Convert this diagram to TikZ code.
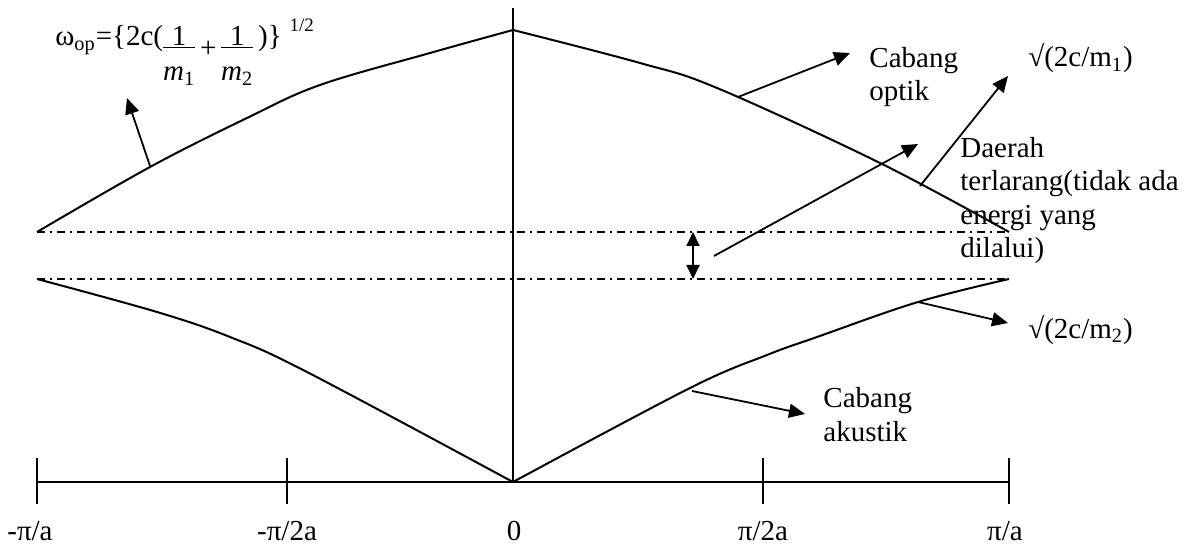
\documentclass[tikz,border=0pt]{standalone}
\usepackage{fontspec}
\setmainfont{Liberation Serif}
\usetikzlibrary{arrows.meta}

% fraction with the bar just under the numerator
\newcommand{\wfrac}[2]{\vtop{\halign{\hfil##\hfil\cr #1\cr
  \noalign{\kern0.5pt\hrule height0.55pt\kern9.5pt}#2\cr}}}

\begin{document}
\begin{tikzpicture}[x=0.5pt, y=-0.5pt, font=\fontsize{14.5}{16.8}\selectfont,
  branch/.style={line width=1pt, line join=round},
  vline/.style={line width=0.8pt},
  axisline/.style={line width=1.1pt},
  tickmark/.style={line width=0.7pt},
  gapline/.style={line width=0.6pt, dash pattern=on 4pt off 2.5pt on 1pt off 2.5pt},
  pointer/.style={line width=0.9pt, -{Triangle[length=8pt, width=7pt]}},
  gaparrow/.style={line width=0.9pt, {Triangle[length=7pt, width=6.5pt]}-{Triangle[length=7pt, width=6.5pt]}},
  lbl/.style={anchor=base west, inner sep=0pt, align=left}]

  \useasboundingbox (0,0) rectangle (1203,550);

  % k axis
  \draw[axisline] (37,482) -- (1009,482);
  \foreach \x in {37,287,763,1009}
    \draw[tickmark] (\x,458) -- (\x,504);
  \foreach \x/\t [count=\i] in {30/{-π/a}, 287/{-π/2a}, 514/{0}, 763/{π/2a}, 1005/{π/a}}
    \node[anchor=base, inner sep=0pt] (k\i) at (\x,540) {\t};
  \draw[vline] (513,8) -- (513,482);

  % forbidden band
  \draw[gapline] (37,232) -- (1009,232);
  \draw[gapline] (37,279) -- (1009,279);

  % optical branch
  \draw[branch] plot[smooth, tension=0.6] coordinates
    {(37,232) (150,167) (247,118) (320,85) (430,53) (513,30)};
  \draw[branch] plot[smooth, tension=0.6] coordinates
    {(513,30) (640,63) (717,88) (880,163) (1009,232)};

  % acoustic branch
  \draw[branch] plot[smooth, tension=0.6] coordinates
    {(37,279) (157,312) (230,337) (307,372) (513,482)};
  \draw[branch] plot[smooth, tension=0.6] coordinates
    {(513,482) (690,388) (767,355) (817,337) (918,302) (1009,279)};

  % labels (multi-line ones sit on their last baseline)
  \node[lbl] (omega) at (55,46) {ω\textsubscript{op}=\{2c(\wfrac{1}{\textit{m}\textsubscript{1}}\,\raisebox{-6pt}{+}\,\wfrac{1}{\textit{m}\textsubscript{2}}\,)\}\hspace{4pt}\raisebox{7pt}{\fontsize{9.5}{9.5}\selectfont 1/2}};
  \node[lbl] (optik) at (869,101) {Cabang\\optik};
  \node[lbl] (sqrtA) at (1028,67) {√(2c/m\textsubscript{1})};
  \node[lbl] (daerah) at (960,258) {Daerah\\terlarang(tidak ada\\energi yang\\dilalui)};
  \node[lbl] (sqrtB) at (1028,338) {√(2c/m\textsubscript{2})};
  \node[lbl] (akustik) at (823,441) {Cabang\\akustik};

  % pointer arrows
  \coordinate (opL) at (150,166);   \coordinate (opLtip) at (127,98);
  \coordinate (opR) at (738,97);    \coordinate (opRtip) at (850,53);
  \coordinate (mA) at (920,186);    \coordinate (mAtip) at (1008,76);
  \coordinate (band) at (714,256);  \coordinate (bandtip) at (918,144);
  \coordinate (mB) at (918,302);    \coordinate (mBtip) at (1008,323);
  \coordinate (ak) at (692,391);    \coordinate (aktip) at (805,414);
  \coordinate (gapT) at (693,232);  \coordinate (gapB) at (693,279);
  \draw[pointer] (opL) -- (opLtip);
  \draw[pointer] (opR) -- (opRtip);
  \draw[pointer] (mA) -- (mAtip);
  \draw[pointer] (band) -- (bandtip);
  \draw[pointer] (mB) -- (mBtip);
  \draw[pointer] (ak) -- (aktip);
  \draw[gaparrow] (gapT) -- (gapB);
\end{tikzpicture}
\end{document}
